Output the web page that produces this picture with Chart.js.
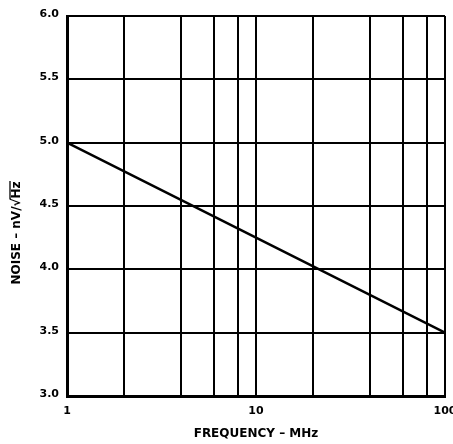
<!DOCTYPE html>
<html>
<head>
<meta charset="utf-8">
<script src="https://cdn.jsdelivr.net/npm/chart.js@4"></script>
<style>
  html, body { margin: 0; padding: 0; background: #fff; }
  #wrap { width: 453px; height: 444px; position: relative; }
</style>
</head>
<body>
<div id="wrap"><canvas id="noiseChart"></canvas></div>
<script>
// Dane
const frequencyMHz = [1, 10, 100];
const noiseValues = [5.0, 4.25, 3.5];
const xGridTicks = [1, 2, 4, 6, 8, 10, 20, 40, 60, 80, 100];
const xLabelTicks = [1, 10, 100];
const yTickValues = [3.0, 3.5, 4.0, 4.5, 5.0, 5.5, 6.0];

const FONT = "'DejaVu Sans', sans-serif";

// Tytul osi Y rysowany recznie (z kreska nad "Hz" jak w pierwiastku)
const yTitlePlugin = {
    id: 'yTitle',
    afterDraw(chart) {
        const ctx = chart.ctx;
        const main = 'NOISE \u2013 nV/\u221A';
        const tail = 'Hz';
        ctx.save();
        ctx.font = 'bold 12px ' + FONT;
        ctx.fillStyle = '#000';
        ctx.textBaseline = 'middle';
        const w1 = ctx.measureText(main).width;
        const w2 = ctx.measureText(tail).width;
        const total = w1 + w2;
        ctx.translate(17, 233);
        ctx.rotate(-Math.PI / 2);
        ctx.textAlign = 'left';
        ctx.fillText(main, -total / 2, 0);
        ctx.fillText(tail, -total / 2 + w1, 0);
        ctx.strokeStyle = '#000';
        ctx.lineWidth = 1.3;
        ctx.beginPath();
        ctx.moveTo(-total / 2 + w1 - 1, -7);
        ctx.lineTo(-total / 2 + w1 + w2 + 0.5, -7);
        ctx.stroke();
        ctx.restore();
    }
};

const ctx = document.getElementById('noiseChart').getContext('2d');
new Chart(ctx, {
    type: 'line',
    data: {
        datasets: [{
            data: frequencyMHz.map((f, i) => ({ x: f, y: noiseValues[i] })),
            borderColor: '#000',
            borderWidth: 2.5,
            pointRadius: 0,
            fill: false,
            tension: 0
        }]
    },
    options: {
        responsive: true,
        maintainAspectRatio: false,
        animation: false,
        layout: { padding: { top: 16, right: 8, left: 0, bottom: 0 } },
        plugins: {
            legend: { display: false },
            tooltip: { enabled: false }
        },
        scales: {
            x: {
                type: 'logarithmic',
                min: 1,
                max: 100,
                afterBuildTicks: (s) => { s.ticks = xGridTicks.map(v => ({ value: v })); },
                afterFit: (s) => { s.height = 48; s.paddingLeft = 0; s.paddingRight = 0; },
                grid: { color: '#000', lineWidth: 2, drawTicks: false },
                border: { color: '#000', width: 3 },
                ticks: {
                    autoSkip: false,
                    maxRotation: 0,
                    padding: 9,
                    color: '#000',
                    font: { family: FONT, size: 11, weight: 'bold' },
                    callback: (v) => xLabelTicks.includes(v) ? String(v) : ''
                },
                title: {
                    display: true,
                    text: 'FREQUENCY \u2013 MHz',
                    color: '#000',
                    font: { family: FONT, size: 12, weight: 'bold' },
                    padding: { top: 0, bottom: 3 }
                }
            },
            y: {
                min: 3.0,
                max: 6.0,
                afterBuildTicks: (s) => { s.ticks = yTickValues.map(v => ({ value: v })); },
                afterFit: (s) => { s.width = 67; },
                grid: { color: '#000', lineWidth: 2, drawTicks: false },
                border: { color: '#000', width: 3 },
                ticks: {
                    padding: 8,
                    labelOffset: -2,
                    color: '#000',
                    font: { family: FONT, size: 11, weight: 'bold' },
                    callback: (v) => v.toFixed(1)
                }
            }
        }
    },
    plugins: [yTitlePlugin]
});
</script>
</body>
</html>
